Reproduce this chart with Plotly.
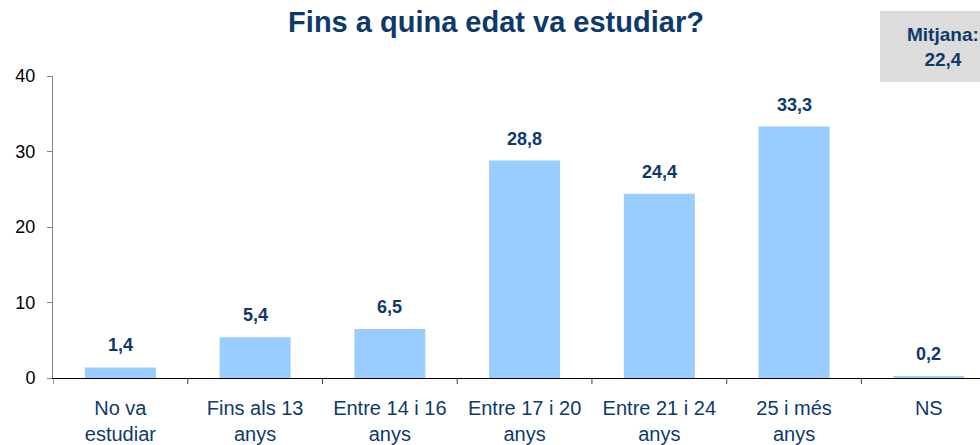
import plotly.graph_objects as go

categories = ["No va<br>estudiar", "Fins als 13<br>anys", "Entre 14 i 16<br>anys",
              "Entre 17 i 20<br>anys", "Entre 21 i 24<br>anys", "25 i més<br>anys", "NS"]
values = [1.4, 5.4, 6.5, 28.8, 24.4, 33.3, 0.2]
y_ticks = [0, 10, 20, 30, 40]
title_text = "Fins a quina edat va estudiar?"
mean_text = "Mitjana:<br>22,4"

navy = "#0E3A6B"
font_family = "Liberation Sans, Arial, sans-serif"

PL, PT, PB = 53, 76, 378
PH = PB - PT
PW = 980 - PL

fig = go.Figure()
fig.add_trace(go.Bar(x=list(range(len(categories))), y=values,
                     marker=dict(color="#99CCFF", line=dict(width=0)),
                     width=0.527, hoverinfo="skip"))

for i, v in enumerate(values):
    fig.add_annotation(x=i, y=v, text="<b>" + f"{v:.1f}".replace(".", ",") + "</b>",
                       showarrow=False, yanchor="bottom", yshift=10,
                       font=dict(size=18, color=navy, family=font_family))

fig.add_shape(type="rect", xref="paper", yref="paper",
              x0=(880 - PL) / PW, x1=1.05, y0=(PB - 82) / PH, y1=(PB - 11) / PH,
              fillcolor="#DCDCDC", line=dict(width=0), layer="below")
fig.add_annotation(xref="paper", yref="paper", x=(943 - PL) / PW, y=(PB - 47) / PH,
                   xanchor="center", yanchor="middle",
                   text="<b>" + mean_text + "</b>", showarrow=False, align="center",
                   font=dict(size=19, color=navy, family=font_family))

fig.update_layout(
    width=980, height=445,
    margin=dict(l=PL, r=0, t=PT, b=445 - PB),
    paper_bgcolor="white", plot_bgcolor="white",
    showlegend=False,
    title=dict(text="<b>" + title_text + "</b>", x=496 / 980, xanchor="center",
               y=1 - 22 / 445, yanchor="middle",
               font=dict(size=29, color=navy, family=font_family)),
    xaxis=dict(range=[-0.5, 6.38], tickmode="array", tickvals=list(range(7)),
               ticktext=categories, showgrid=False, zeroline=False,
               showline=True, linecolor="black", linewidth=1,
               ticks="", ticklabelstandoff=12,
               tickfont=dict(size=20, color=navy, family=font_family)),
    yaxis=dict(range=[0, 40], tickvals=y_ticks, showgrid=False, zeroline=False,
               showline=True, linecolor="#808080", linewidth=1,
               ticks="outside", ticklen=5, tickcolor="#808080", ticklabelstandoff=8,
               tickfont=dict(size=18, color="black", family=font_family)),
)

for b in [i - 0.5 for i in range(8)]:
    if b <= 6.38:
        fig.add_shape(type="line", xref="x", yref="paper", x0=b, x1=b, y0=0, y1=-6 / PH,
                      line=dict(color="#404040", width=1))

fig.write_html("out.html", config={"displayModeBar": False},
               post_script="document.body.style.margin='0';document.body.style.overflow='hidden';")
